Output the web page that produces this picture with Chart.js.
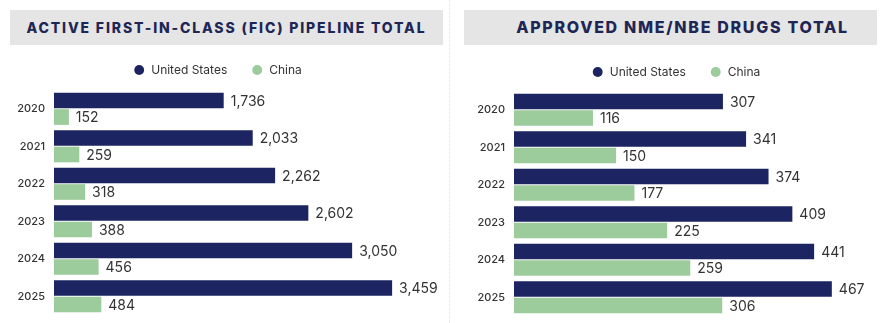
<!DOCTYPE html>
<html>
<head>
<meta charset="utf-8">
<script src="https://cdn.jsdelivr.net/npm/chart.js@4"></script>
<style>
  body { margin: 0; width: 889px; height: 323px; background: #fff; position: relative; overflow: hidden; font-family: Inter, sans-serif; }
  .head { position: absolute; top: 10px; height: 35px; background: #e5e5e5; color: #1e2656;
          font-family: Inter, sans-serif; font-weight: 800; line-height: 35px; text-align: center; z-index: 2; }
  .sep { position: absolute; left: 449px; top: 0; height: 323px; border-left: 1px dotted #e4e4e4; }
  .box { position: absolute; }
</style>
</head>
<body>
<div class="head" style="left:10px;width:433px;font-size:14px;letter-spacing:1.85px;">ACTIVE FIRST-IN-CLASS (FIC) PIPELINE TOTAL</div>
<div class="head" style="left:464px;width:413px;font-size:16px;letter-spacing:1.7px;padding-left:24px;box-sizing:border-box;">APPROVED NME/NBE DRUGS TOTAL</div>
<div class="sep"></div>
<div class="box" style="left:0;top:44px;width:445px;height:279px;"><canvas id="ficChart"></canvas></div>
<div class="box" style="left:449px;top:45px;width:440px;height:278px;"><canvas id="nmeChart"></canvas></div>
<script>
// datos
const years = ["2020", "2021", "2022", "2023", "2024", "2025"];
const ficUS = [1736, 2033, 2262, 2602, 3050, 3459];
const ficChina = [152, 259, 318, 388, 456, 484];
const nmeUS = [307, 341, 374, 409, 441, 467];
const nmeChina = [116, 150, 177, 225, 259, 306];

const navy = "#1c2561";
const green = "#9ccb9c";

// etiquetas de valor al final de cada barra
const valueLabels = {
  id: "valueLabels",
  afterDatasetsDraw(chart) {
    const ctx = chart.ctx;
    ctx.save();
    ctx.font = "14px Inter";
    ctx.fillStyle = "#333";
    ctx.textBaseline = "middle";
    chart.data.datasets.forEach((ds, i) => {
      chart.getDatasetMeta(i).data.forEach((bar, j) => {
        ctx.fillText(ds.data[j].toLocaleString("en-US"), bar.x + 7, bar.y + 1);
      });
    });
    ctx.restore();
  }
};

// mover la leyenda un poco despues del layout
const legendShift = {
  id: "legendShift",
  afterLayout(chart, args, opts) {
    const lg = chart.legend;
    lg.left += opts.dx; lg.right += opts.dx;
    lg.top += opts.dy; lg.bottom += opts.dy;
  }
};

function crearGrafico(id, us, china, max, axisWidth, dx, dy, padBottom) {
  return new Chart(document.getElementById(id), {
    type: "bar",
    data: {
      labels: years,
      datasets: [
        { label: "United States", data: us, backgroundColor: navy },
        { label: "China", data: china, backgroundColor: green }
      ]
    },
    options: {
      indexAxis: "y",
      responsive: true,
      maintainAspectRatio: false,
      animation: false,
      categoryPercentage: 0.88,
      barPercentage: 0.95,
      layout: { padding: { top: 0, bottom: padBottom, left: 0, right: 0 } },
      plugins: {
        legend: {
          labels: {
            usePointStyle: true,
            pointStyle: "circle",
            boxHeight: 7,
            padding: 24,
            color: "#333",
            font: { family: "Inter", size: 12 }
          }
        },
        legendShift: { dx: dx, dy: dy },
        tooltip: { enabled: false }
      },
      scales: {
        x: { display: false, min: 0, max: max },
        y: {
          grid: { display: false, drawTicks: false },
          border: { display: false },
          ticks: { color: "#333", padding: 9, font: { family: "Inter", size: 11, weight: 500 } },
          afterFit(scale) {
            scale.width = axisWidth;
            scale.paddingTop = 0;
            scale.paddingBottom = 0;
          }
        }
      }
    },
    plugins: [valueLabels, legendShift]
  });
}

crearGrafico("ficChart", ficUS, ficChina, 4000, 54, -5, -4, 8);
crearGrafico("nmeChart", nmeUS, nmeChina, 551, 65, 7, -3, 7);
</script>
</body>
</html>
